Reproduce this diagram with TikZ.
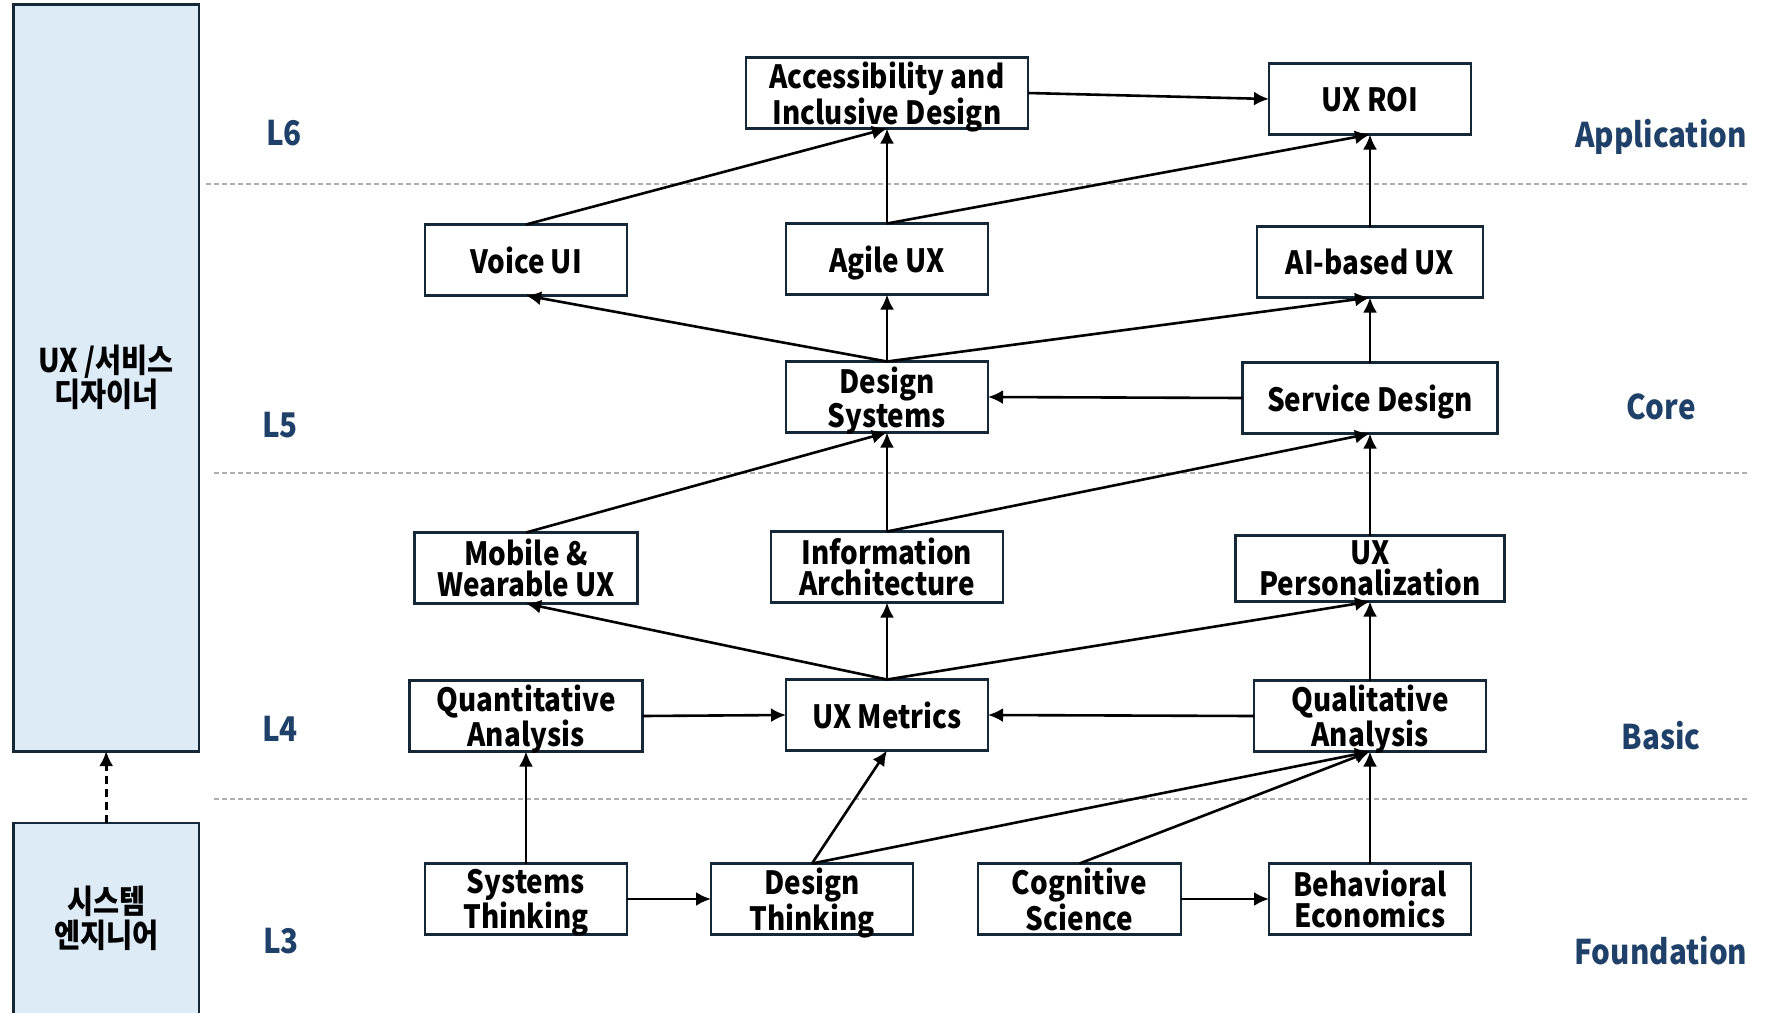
\documentclass[tikz,border=0pt]{standalone}
\usepackage{fontspec}
\setmainfont{Noto Sans CJK KR}[FakeStretch=0.87]
\usetikzlibrary{positioning,arrows.meta}
\definecolor{navy}{RGB}{20,40,56}
\definecolor{lvlblue}{RGB}{31,64,104}
\definecolor{panelblue}{RGB}{221,235,247}
\definecolor{sepgray}{RGB}{175,175,175}

\begin{document}
\begin{tikzpicture}[x=1pt,y=-1pt,
		box/.style={draw=navy, line width=1.45pt, fill=white, minimum height=35.5pt, inner xsep=1pt, inner ysep=0pt, outer sep=0pt, text depth=0pt, align=center, font=\bfseries\fontsize{16}{15.5}\selectfont},
		panel/.style={draw=navy, line width=1.45pt, fill=panelblue, minimum width=92.75pt, outer sep=0pt, align=center, font=\bfseries\fontsize{16.3}{17}\selectfont},
		lvl/.style={text=lvlblue, font=\bfseries\fontsize{17}{17}\selectfont},
		link/.style={-{Latex[length=7.5pt,width=7pt]}, line width=1.3pt},
		sepline/.style={sepgray, dash pattern=on 2.5pt off 1.5pt, line width=1pt}]
		\useasboundingbox (0,0) rectangle (882.5,506);
		\draw[sepline] (103,91.75) -- (873.5,91.75);
		\draw[sepline] (107,236.5) -- (873.5,236.5);
		\draw[sepline] (107,399.5) -- (873.5,399.5);

		\node[panel, minimum height=373.25pt] (ux) at (53.1,188.9) {UX /서비스\\디자이너};
		\node[panel, minimum height=95.5pt] (se) at (53.1,459.25) {시스템\\엔지니어};
		\draw[link, dash pattern=on 4pt off 2.5pt] (se.north) -- (ux.south);

		\node[lvl] (l6) at (142,66.5) {L6};
		\node[lvl] (l5) at (140,212.5) {L5};
		\node[lvl] (l4) at (140,364.5) {L4};
		\node[lvl] (l3) at (140.5,470.5) {L3};
		\node[lvl] (app) at (830.5,68.5) {Application};
		\node[lvl] (core) at (830.5,203.5) {Core};
		\node[lvl] (basic) at (830.5,368) {Basic};
		\node[lvl] (found) at (830.5,475.5) {Foundation};

		\node[box, minimum width=101pt] (st) at (263,449.5) {Systems\\Thinking};
		\node[box, minimum width=101pt, right=42pt of st] (dt) {Design\\Thinking};
		\node[box, minimum width=101.5pt, right=32.5pt of dt] (cs) {Cognitive\\Science};
		\node[box, minimum width=101pt, right=44pt of cs] (be) {Behavioral\\Economics};
		\node[box, minimum width=116.5pt, above=56pt of st] (qn) {Quantitative\\Analysis};
		\node[box, minimum width=116pt, above=56pt of be] (ql) {Qualitative\\Analysis};
		\node[box, minimum width=101pt] (um) at (443.5,357.5) {UX Metrics};
		\node[box, minimum width=111.5pt, above=38.5pt of qn] (mw) {Mobile \&\\Wearable UX};
		\node[box, minimum width=116pt, above=38.5pt of um] (ia) {Information\\Architecture};
		\node[box, minimum width=134.5pt, minimum height=33pt, above=39.5pt of ql] (up) {UX\\Personalization};
		\node[box, minimum width=101pt, above=49.5pt of ia] (ds) {Design\\Systems};
		\node[box, minimum width=127.5pt, above=51pt of up] (sd) {Service Design};
		\node[box, minimum width=101pt, above=118.5pt of mw] (vu) {Voice UI};
		\node[box, minimum width=101pt, above=33.5pt of ds] (ag) {Agile UX};
		\node[box, minimum width=113pt, above=32.5pt of sd] (ai) {AI-based UX};
		\node[box, minimum width=141pt, above=47.5pt of ag] (ac) {Accessibility and\\Inclusive Design};
		\node[box, minimum width=101pt, above=46pt of ai] (roi) {UX ROI};

		\draw[link] (st.north) -- (qn.south);
		\draw[link] (st.east) -- (dt.west);
		\draw[link] (cs.east) -- (be.west);
		\draw[link] (dt.north) -- (um.south);
		\draw[link] (dt.north) -- (ql.south);
		\draw[link] (cs.north) -- (ql.south);
		\draw[link] (be.north) -- (ql.south);
		\draw[link] (qn.east) -- (um.west);
		\draw[link] (ql.west) -- (um.east);
		\draw[link] (um.north) -- (mw.south);
		\draw[link] (um.north) -- (ia.south);
		\draw[link] (um.north) -- (up.south);
		\draw[link] (ql.north) -- (up.south);
		\draw[link] (mw.north) -- (ds.south);
		\draw[link] (ia.north) -- (ds.south);
		\draw[link] (ia.north) -- (sd.south);
		\draw[link] (up.north) -- (sd.south);
		\draw[link] (sd.west) -- (ds.east);
		\draw[link] (ds.north) -- (vu.south);
		\draw[link] (ds.north) -- (ag.south);
		\draw[link] (ds.north) -- (ai.south);
		\draw[link] (sd.north) -- (ai.south);
		\draw[link] (vu.north) -- (ac.south);
		\draw[link] (ag.north) -- (ac.south);
		\draw[link] (ag.north) -- (roi.south);
		\draw[link] (ai.north) -- (roi.south);
		\draw[link] (ac.east) -- (roi.west);
	\end{tikzpicture}
\end{document}
